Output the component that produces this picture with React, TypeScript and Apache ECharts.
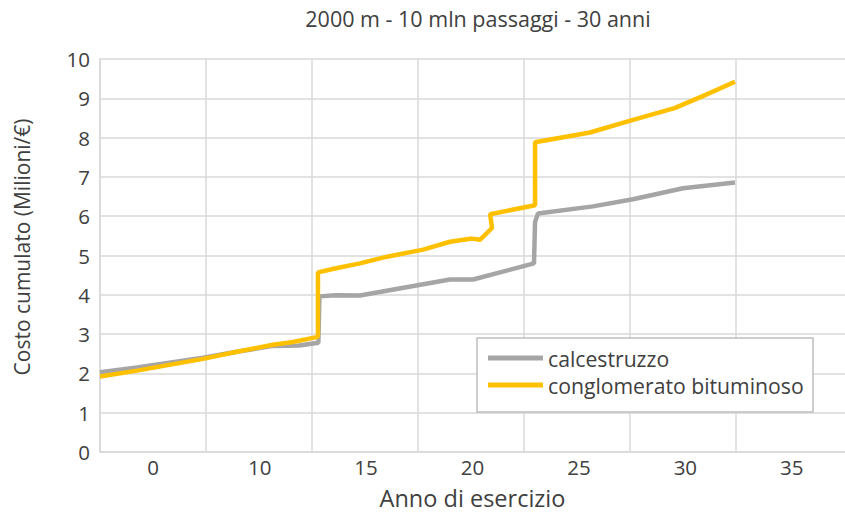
import React, { useEffect, useRef } from "react";
import * as echarts from "echarts";

const chartTitle = "2000 m - 10 mln passaggi - 30 anni";
const xAxisName = "Anno di esercizio";
const yAxisName = "Costo cumulato (Milioni/€)";
const xLabels = ["0", "10", "15", "20", "25", "30", "35"];
const seriesNames = ["calcestruzzo", "conglomerato bituminoso"];

const calcYears = [0, 1.75, 4.86, 6.46, 8.16, 9.4, 10.3, 10.35, 11.1, 12.26, 16.51, 17.6, 20.47, 20.52, 20.66, 23.25, 25.14, 27.5, 29.95];
const calcCost = [2.03, 2.15, 2.4, 2.55, 2.7, 2.71, 2.78, 3.96, 3.99, 3.98, 4.39, 4.39, 4.8, 5.85, 6.07, 6.25, 6.43, 6.71, 6.86];

const conglYears = [0, 1.75, 4.86, 6.46, 8.16, 9.1, 10.28, 10.28, 11.08, 12.26, 13.54, 15.24, 16.51, 17.55, 17.92, 18.49, 18.4, 20.52, 20.52, 23.11, 25.14, 27.1, 28.54, 29.95];
const conglCost = [1.92, 2.07, 2.37, 2.55, 2.73, 2.8, 2.93, 4.57, 4.67, 4.8, 4.97, 5.15, 5.35, 5.43, 5.4, 5.7, 6.05, 6.28, 7.88, 8.13, 8.45, 8.75, 9.08, 9.42];

const FONT = "'Open Sans', 'Noto Sans', sans-serif";
const TEXT = "#404040";
const GRID = "#d9d9d9";

export default function App() {
  const ref = useRef<HTMLDivElement>(null);
  useEffect(() => {
    if (!ref.current) return;
    const chart = echarts.init(ref.current, null, { renderer: "svg" });
    const pairs = (xs: number[], ys: number[]) => xs.map((x, i) => [x, ys[i]]);
    chart.setOption({
      animation: false,
      textStyle: { fontFamily: FONT },
      grid: { left: 100, top: 59, right: 0, bottom: 60 },
      xAxis: [
        {
          type: "value",
          min: 0,
          max: 35.14,
          interval: 5,
          axisLabel: { show: false },
          axisTick: { show: false },
          axisLine: { show: true, lineStyle: { color: GRID, width: 1.5 } },
          splitLine: {
            show: true,
            lineStyle: {
              color: [GRID, GRID, GRID, GRID, GRID, GRID, GRID, "rgba(0,0,0,0)", "rgba(0,0,0,0)"],
              width: 1.5,
            },
          },
        },
        {
          type: "category",
          data: xLabels,
          position: "bottom",
          boundaryGap: true,
          axisLine: { show: false },
          axisTick: { show: false },
          splitLine: { show: false },
          axisLabel: { fontSize: 20.5, color: TEXT, margin: 4, fontFamily: FONT },
          name: xAxisName,
          nameLocation: "middle",
          nameGap: 34,
          nameTextStyle: { fontSize: 23.5, color: TEXT, fontFamily: FONT },
        },
      ],
      yAxis: {
        type: "value",
        min: 0,
        max: 10,
        interval: 1,
        axisLine: { show: true, lineStyle: { color: GRID, width: 1.5 } },
        axisTick: { show: false },
        splitLine: { show: true, lineStyle: { color: GRID, width: 1.5 } },
        axisLabel: { fontSize: 20.5, color: TEXT, margin: 10, fontFamily: FONT },
      },
      legend: {
        orient: "vertical",
        left: 488,
        top: 346,
        padding: 0,
        itemGap: 3,
        itemWidth: 55,
        itemHeight: 5,
        icon: "rect",
        data: seriesNames,
        textStyle: { fontSize: 21.2, color: TEXT, lineHeight: 24, fontFamily: FONT },
      },
      graphic: [
        {
          type: "rect",
          z: 3,
          shape: { x: 477, y: 338, width: 336, height: 74 },
          style: { fill: "#ffffff", stroke: "#bfbfbf", lineWidth: 1.5 },
        },
        {
          type: "text",
          x: 478,
          y: 18,
          style: { text: chartTitle, fontSize: 21.5, fill: TEXT, align: "center", verticalAlign: "middle", fontFamily: FONT },
        },
        {
          type: "text",
          x: 22,
          y: 247,
          rotation: Math.PI / 2,
          style: { text: yAxisName, fontSize: 21, fill: TEXT, align: "center", verticalAlign: "middle", fontFamily: FONT },
        },
      ],
      series: [
        {
          name: seriesNames[0],
          type: "line",
          xAxisIndex: 0,
          data: pairs(calcYears, calcCost),
          showSymbol: false,
          color: "#a5a5a5",
          lineStyle: { width: 4.5, color: "#a5a5a5" },
          z: 2,
        },
        {
          name: seriesNames[1],
          type: "line",
          xAxisIndex: 0,
          data: pairs(conglYears, conglCost),
          showSymbol: false,
          color: "#ffc000",
          lineStyle: { width: 4.5, color: "#ffc000" },
          z: 2,
        },
      ],
    });
    return () => chart.dispose();
  }, []);
  return (
    <div
      ref={ref}
      style={{ position: "fixed", left: 0, top: 0, width: 845, height: 515, background: "#ffffff" }}
    />
  );
}
